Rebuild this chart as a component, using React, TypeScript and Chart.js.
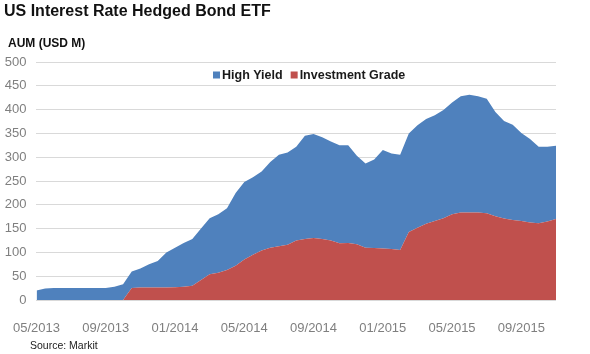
import React, { useEffect, useRef } from "react";
import { Chart, registerables } from "chart.js";

Chart.register(...registerables);

const TITLE = "US Interest Rate Hedged Bond ETF";
const Y_TITLE = "AUM (USD M)";
const SOURCE = "Source: Markit";
const FONT = '"Liberation Sans", Arial, Helvetica, sans-serif';

// semi-monthly observation dates
const dates = [
  "2013-05-01", "2013-05-16", "2013-06-01", "2013-06-16", "2013-07-01", "2013-07-16",
  "2013-08-01", "2013-08-16", "2013-09-01", "2013-09-16", "2013-10-01", "2013-10-16",
  "2013-11-01", "2013-11-16", "2013-12-01", "2013-12-16",
  "2014-01-01", "2014-01-16", "2014-02-01", "2014-02-16", "2014-03-01", "2014-03-16",
  "2014-04-01", "2014-04-16", "2014-05-01", "2014-05-16", "2014-06-01", "2014-06-16",
  "2014-07-01", "2014-07-16", "2014-08-01", "2014-08-16", "2014-09-01", "2014-09-16",
  "2014-10-01", "2014-10-16", "2014-11-01", "2014-11-16", "2014-12-01", "2014-12-16",
  "2015-01-01", "2015-01-16", "2015-02-01", "2015-02-16", "2015-03-01", "2015-03-16",
  "2015-04-01", "2015-04-16", "2015-05-01", "2015-05-16", "2015-06-01", "2015-06-16",
  "2015-07-01", "2015-07-16", "2015-08-01", "2015-08-16", "2015-09-01", "2015-09-16",
  "2015-10-01", "2015-10-16", "2015-11-01",
];

const tickMonths = ["01", "05", "09"];

// AUM, USD M (stacked: Investment Grade at the bottom, High Yield on top)
const highYield = [
  20, 24, 25, 25, 25, 25, 25, 25, 25, 28, 33, 35, 40, 49, 56, 74,
  83, 92, 98, 108, 118, 123, 130, 153, 163, 163, 166, 180, 192, 194, 197, 217,
  219, 214, 208, 206, 205, 186, 177, 186, 207, 201, 200, 207, 215, 220, 222, 227,
  235, 244, 247, 244, 241, 219, 205, 200, 185, 175, 161, 157, 154,
];

const investmentGrade = [
  0, 0, 0, 0, 0, 0, 0, 0, 0, 0, 0, 25, 26, 26, 26, 26,
  27, 28, 30, 42, 54, 57, 63, 72, 85, 95, 104, 110, 113, 116, 125, 128,
  130, 128, 125, 119, 120, 117, 110, 109, 108, 107, 105, 143, 152, 160, 166, 172,
  180, 184, 184, 184, 182, 176, 171, 168, 166, 163, 161, 165, 170,
];

const yTicks = { min: 0, max: 500, step: 50 };

const BLUE = "#4f81bd";
const RED = "#c0504d";

const decorPlugin = {
  id: "decor",
  afterDraw(chart: any) {
    const ctx = chart.ctx as CanvasRenderingContext2D;
    ctx.save();
    ctx.textAlign = "left";
    ctx.textBaseline = "alphabetic";
    ctx.fillStyle = "#111111";
    ctx.font = `bold 16px ${FONT}`;
    ctx.fillText(TITLE, 4, 16);
    ctx.font = `bold 12px ${FONT}`;
    ctx.fillText(Y_TITLE, 8, 47);
    ctx.fillStyle = "#222222";
    ctx.font = `10.5px ${FONT}`;
    ctx.fillText(SOURCE, 30, 349);

    // legend (High Yield first, then Investment Grade)
    const items = [chart.data.datasets[1], chart.data.datasets[0]];
    ctx.font = `bold 12.5px ${FONT}`;
    ctx.textBaseline = "middle";
    let x = 213;
    const yc = 75;
    const box = 7;
    items.forEach((ds: any) => {
      ctx.fillStyle = ds.backgroundColor;
      ctx.fillRect(x, yc - box / 2, box, box);
      x += box + 2;
      ctx.fillStyle = "#1a1a1a";
      ctx.fillText(ds.label, x, yc + 0.5);
      x += ctx.measureText(ds.label).width + 8;
    });
    ctx.restore();
  },
};

export default function App() {
  const ref = useRef<HTMLCanvasElement>(null);

  useEffect(() => {
    if (!ref.current) return;
    const chart = new Chart(ref.current, {
      type: "line",
      data: {
        labels: dates,
        datasets: [
          {
            label: "Investment Grade",
            data: investmentGrade,
            backgroundColor: RED,
            borderColor: RED,
            borderWidth: 0,
            pointRadius: 0,
            fill: "origin",
            tension: 0,
          },
          {
            label: "High Yield",
            data: highYield,
            backgroundColor: BLUE,
            borderColor: BLUE,
            borderWidth: 0,
            pointRadius: 0,
            fill: "-1",
            tension: 0,
          },
        ],
      },
      options: {
        responsive: false,
        animation: false,
        layout: { padding: { left: 0, right: 34, top: 62, bottom: 0 } },
        plugins: {
          legend: { display: false },
          title: { display: false },
          tooltip: { enabled: false },
        },
        scales: {
          x: {
            offset: false,
            grid: { display: false },
            border: { display: false },
            ticks: {
              autoSkip: false,
              maxRotation: 0,
              minRotation: 0,
              padding: 13,
              color: "#7f7f7f",
              font: { family: FONT, size: 13 },
              callback: (_v: any, i: number) => {
                const d = dates[i];
                const [yy, mm, dd] = d.split("-");
                return dd === "01" && tickMonths.includes(mm) ? `${mm}/${yy}` : "";
              },
            },
            afterFit: (s: any) => {
              s.height = 54;
            },
          },
          y: {
            stacked: true,
            min: yTicks.min,
            max: yTicks.max,
            grid: { color: "#d9d9d9", lineWidth: 1, drawTicks: false },
            border: { display: false },
            ticks: {
              stepSize: yTicks.step,
              padding: 10,
              color: "#7f7f7f",
              font: { family: FONT, size: 13 },
            },
            afterFit: (s: any) => {
              s.width = 36;
            },
          },
        },
      },
      plugins: [decorPlugin],
    });
    return () => chart.destroy();
  }, []);

  return (
    <div style={{ position: "absolute", left: 0, top: 0, width: 590, height: 354, background: "#fff" }}>
      <canvas ref={ref} width={590} height={354} style={{ display: "block" }} />
    </div>
  );
}
